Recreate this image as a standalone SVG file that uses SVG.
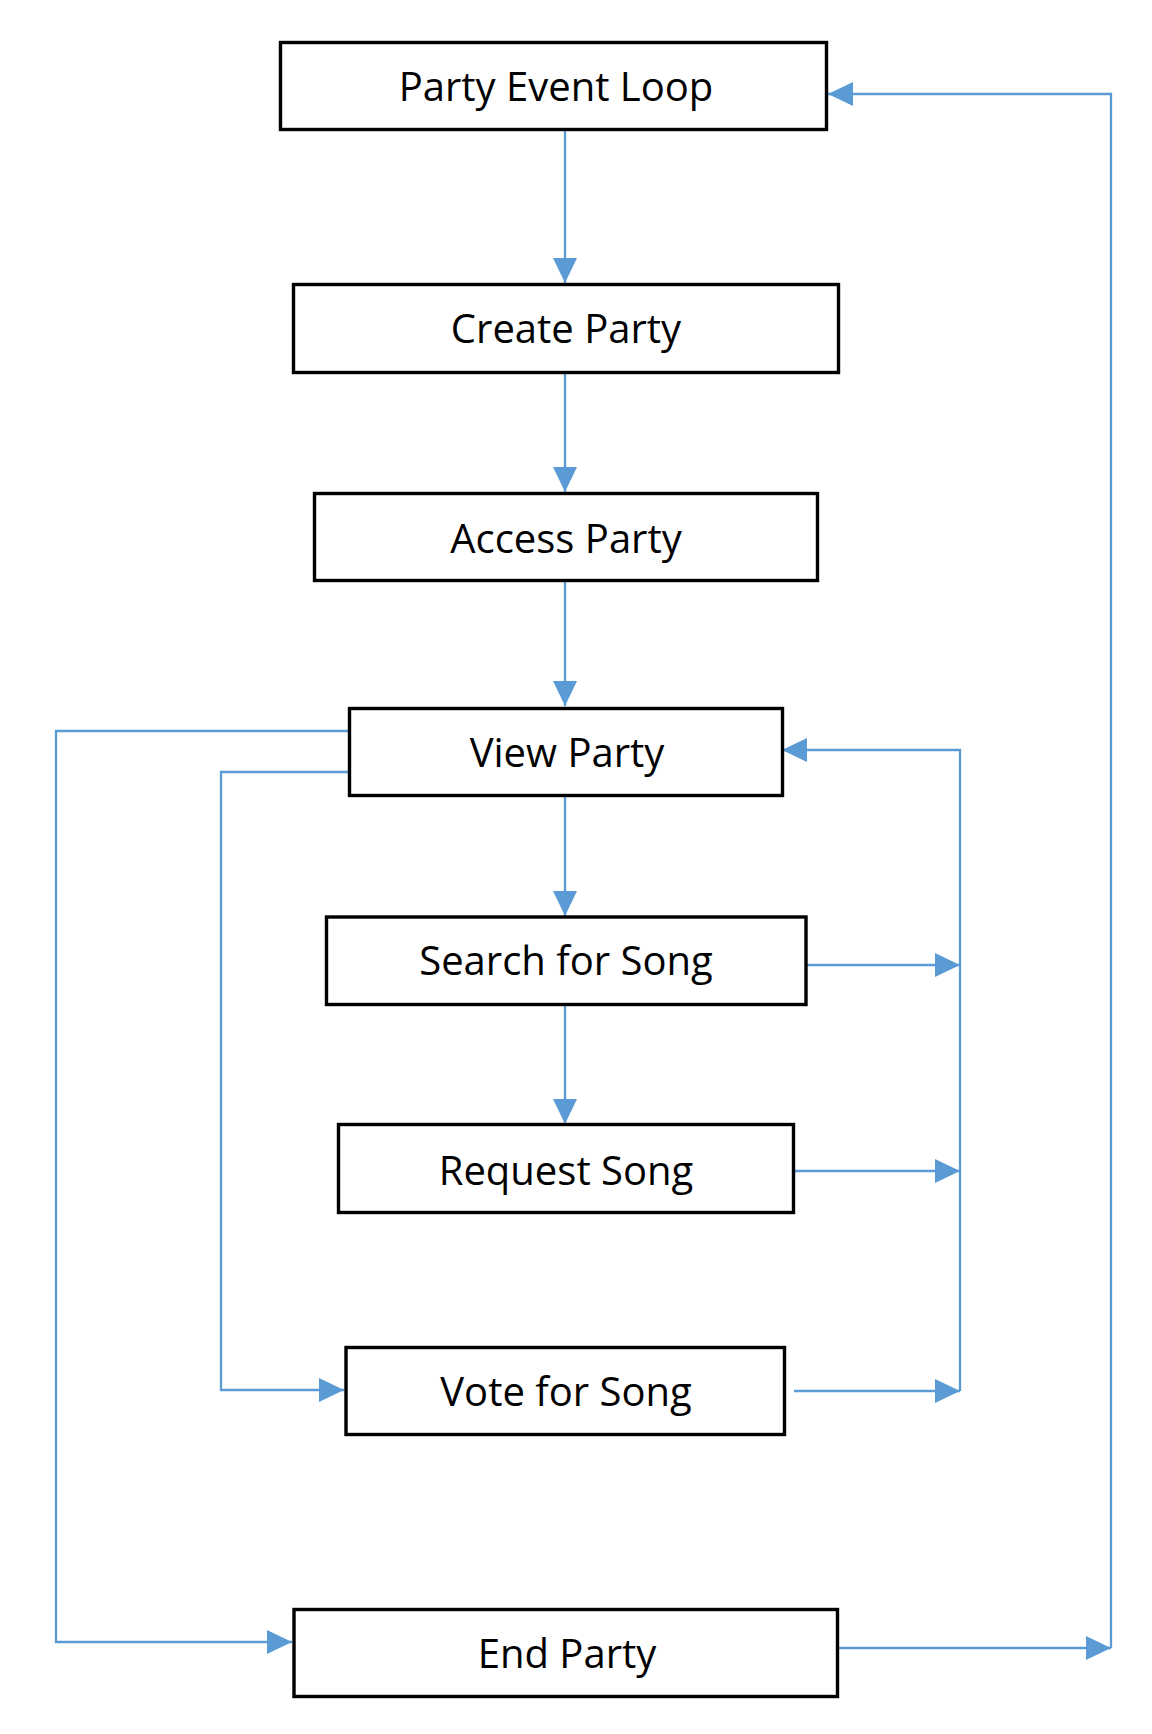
<svg xmlns="http://www.w3.org/2000/svg" width="1152" height="1734" viewBox="0 0 1152 1734">
<style>
.box{fill:#fff;stroke:#000;stroke-width:3.4}
.lbl{font-family:"Open Sans","Liberation Sans",sans-serif;font-size:40px;fill:#000;text-anchor:middle}
.con{fill:none;stroke:#5B9BD5;stroke-width:2.3;marker-end:url(#ah)}
</style>
<defs>
<marker id="ah" markerUnits="userSpaceOnUse" markerWidth="25" markerHeight="24" refX="25" refY="12" orient="auto" viewBox="0 0 25 24">
<path d="M0,0 L25,12 L0,24 z" fill="#5B9BD5"/>
</marker>
</defs>
<rect width="1152" height="1734" fill="#fff"/>
<g id="connectors">
<path class="con" d="M565,131 V283"/>
<path class="con" d="M565,374 V492"/>
<path class="con" d="M565,581 V706"/>
<path class="con" d="M565,797 V916"/>
<path class="con" d="M565,1006 V1124"/>
<path class="con" d="M349,731 H56 V1642 H292"/>
<path class="con" d="M350,772 H221 V1390 H344"/>
<path class="con" d="M807,965 H960"/>
<path class="con" d="M795,1171 H960"/>
<path class="con" d="M794,1391 H960"/>
<path class="con" d="M960,1391 V750 H782"/>
<path class="con" d="M839,1648 H1111"/>
<path class="con" d="M1111,1648 V94 H828"/>
</g>
<g id="party-event-loop">
<rect class="box" x="280.5" y="42.5" width="546" height="87"/>
<text class="lbl" x="556" y="101">Party Event Loop</text>
</g>
<g id="create-party">
<rect class="box" x="293.5" y="284.5" width="545" height="88"/>
<text class="lbl" x="566" y="343">Create Party</text>
</g>
<g id="access-party">
<rect class="box" x="314.5" y="493.5" width="503" height="87"/>
<text class="lbl" x="566" y="553">Access Party</text>
</g>
<g id="view-party">
<rect class="box" x="349.5" y="708.5" width="433" height="87"/>
<text class="lbl" x="567" y="767">View Party</text>
</g>
<g id="search-for-song">
<rect class="box" x="326.5" y="917" width="479.5" height="87.5"/>
<text class="lbl" x="566" y="975">Search for Song</text>
</g>
<g id="request-song">
<rect class="box" x="338.5" y="1124.5" width="455" height="88"/>
<text class="lbl" x="566" y="1185">Request Song</text>
</g>
<g id="vote-for-song">
<rect class="box" x="346" y="1347.5" width="438.5" height="87"/>
<text class="lbl" x="566" y="1406">Vote for Song</text>
</g>
<g id="end-party">
<rect class="box" x="294" y="1609.5" width="543.5" height="87"/>
<text class="lbl" x="567" y="1668">End Party</text>
</g>
</svg>
